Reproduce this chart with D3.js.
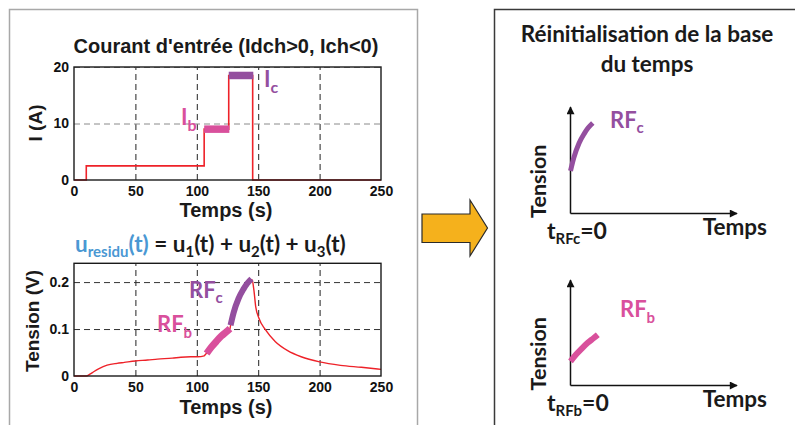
<!DOCTYPE html>
<html><head><meta charset="utf-8">
<script src="https://cdn.jsdelivr.net/npm/d3@7"></script>
<style>body{margin:0;background:#fff}svg{display:block}</style>
</head><body><svg id="c" width="795" height="425"></svg>
<script>
// ---------- data ----------
const xTicks = [0, 50, 100, 150, 200, 250];
const iTicks = [0, 10, 20];
const uTicks = [0, 0.1, 0.2];
const uTickLabels = ["0", "0.1", "0.2"];

// input current (step profile, value holds until next time)
const currentT = [0, 10, 106, 126, 145.5, 250];
const currentI = [0, 2.5, 9, 18.5, 0, 0];

// highlighted current pulses
const pulseNames = ["b", "c"];
const pulseStart = [106, 126];
const pulseEnd = [126.5, 146];
const pulseI = [9, 18.5];

// residual voltage
const uT = [0, 10, 13, 16, 20, 27, 35, 41, 50, 60, 68, 80, 87, 95, 100.7, 106, 107, 108.4, 112, 116, 120, 124, 127, 127.5, 130, 134, 138, 141, 145, 146.5, 148, 150.6, 156, 164, 174, 185, 200, 217, 234, 250];
const uV = [0, 0, 0.004, 0.009, 0.015, 0.023, 0.027, 0.029, 0.032, 0.034, 0.036, 0.038, 0.040, 0.041, 0.041, 0.043, 0.046, 0.049, 0.062, 0.074, 0.085, 0.094, 0.101, 0.108, 0.135, 0.165, 0.185, 0.197, 0.205, 0.183, 0.147, 0.123, 0.098, 0.073, 0.054, 0.041, 0.030, 0.0227, 0.0185, 0.0142];

// response fragments
const rfbT = [108, 112, 116, 120, 124, 127];
const rfbV = [0.048, 0.062, 0.074, 0.085, 0.094, 0.101];
const rfcT = [127.5, 130, 134, 138, 141, 144.5];
const rfcV = [0.108, 0.135, 0.165, 0.185, 0.197, 0.207];

// ---------- style ----------
const RED = "#ee2229", PINK = "#d9509c", PURPLE = "#944f9f", BLUE = "#4a98d3";
const ARIAL = "'Liberation Sans', Arial, sans-serif";
const CAL = "Lato, 'Open Sans', sans-serif";

const svg = d3.select("#c");

// panels
svg.append("rect").attr("x", 9.5).attr("y", 9.5).attr("width", 408).attr("height", 430)
  .attr("fill", "none").attr("stroke", "#a8a8a8").attr("stroke-width", 1.5);
svg.append("rect").attr("x", 494.5).attr("y", 9.5).attr("width", 320).attr("height", 430)
  .attr("fill", "none").attr("stroke", "#3a3a3a").attr("stroke-width", 1.5);

const x = d3.scaleLinear().domain([0, 250]).range([74, 381]);

function panel(y, ticks, labels, hGridColor) {
  const g = svg.append("g");
  const [y0, y1] = y.range();
  g.append("g").attr("transform", `translate(0,${y0})`)
    .call(d3.axisBottom(x).tickValues(xTicks.slice(1, -1)).tickSize(-(y0 - y1)).tickFormat(""))
    .call(s => s.select(".domain").remove())
    .call(s => s.selectAll("line").attr("stroke", "#222").attr("stroke-dasharray", "6,4").attr("stroke-width", 1));
  g.append("g").attr("transform", `translate(${x.range()[0]},0)`)
    .call(d3.axisLeft(y).tickValues(ticks.slice(1)).tickSize(-(x.range()[1] - x.range()[0])).tickFormat(""))
    .call(s => s.select(".domain").remove())
    .call(s => s.selectAll("line").attr("stroke", hGridColor).attr("stroke-dasharray", "6,4").attr("stroke-width", 1));
  g.append("g").attr("transform", `translate(0,${y0})`)
    .call(d3.axisBottom(x).tickValues(xTicks).tickSize(0).tickPadding(6).tickFormat(d3.format("d")))
    .call(s => s.select(".domain").remove())
    .call(s => s.selectAll("text").attr("font-family", ARIAL).attr("font-weight", "bold").attr("font-size", 14).attr("fill", "#111"));
  g.append("g").attr("transform", `translate(${x.range()[0]},0)`)
    .call(d3.axisLeft(y).tickValues(ticks).tickSize(0).tickPadding(5).tickFormat((d, i) => labels[i]))
    .call(s => s.select(".domain").remove())
    .call(s => s.selectAll("text").attr("font-family", ARIAL).attr("font-weight", "bold").attr("font-size", 14).attr("fill", "#111"));
  return g;
}
function frame(y) {
  svg.append("rect").attr("x", x.range()[0]).attr("y", y.range()[1])
    .attr("width", x.range()[1] - x.range()[0]).attr("height", y.range()[0] - y.range()[1])
    .attr("fill", "none").attr("stroke", "#1a1a1a").attr("stroke-width", 1.4);
}
function subLabel(px, py, main, sub, color, size, subSize, dy) {
  const t = svg.append("text").attr("x", px).attr("y", py)
    .attr("font-family", CAL).attr("font-weight", "bold").attr("font-size", size).attr("fill", color);
  t.append("tspan").text(main);
  t.append("tspan").attr("font-size", subSize).attr("dy", dy).text(sub);
  return t;
}

// ---------- top: current ----------
const yI = d3.scaleLinear().domain([0, 20]).range([180, 67]);
panel(yI, iTicks, iTicks.map(String), "#8a8a8a");
svg.append("path").datum(currentT.map((t, i) => [t, currentI[i]]))
  .attr("d", d3.line().x(d => x(d[0])).y(d => yI(d[1])).curve(d3.curveStepAfter))
  .attr("fill", "none").attr("stroke", RED).attr("stroke-width", 1.6);
frame(yI);
pulseNames.forEach((n, i) => {
  svg.append("line").attr("x1", x(pulseStart[i])).attr("x2", x(pulseEnd[i]))
    .attr("y1", yI(pulseI[i])).attr("y2", yI(pulseI[i]))
    .attr("stroke", i === 0 ? PINK : PURPLE).attr("stroke-width", 7.5);
});
svg.append("text").attr("x", 226).attr("y", 53).attr("text-anchor", "middle")
  .attr("font-family", ARIAL).attr("font-weight", "bold").attr("font-size", 20).attr("fill", "#1a1a1a")
  .text("Courant d'entrée (Idch>0, Ich<0)");
svg.append("text").attr("x", 226).attr("y", 217).attr("text-anchor", "middle")
  .attr("font-family", ARIAL).attr("font-weight", "bold").attr("font-size", 20).attr("fill", "#1a1a1a")
  .text("Temps (s)");
svg.append("text").attr("transform", "translate(42,123) rotate(-90)").attr("text-anchor", "middle")
  .attr("font-family", ARIAL).attr("font-weight", "bold").attr("font-size", 19).attr("fill", "#1a1a1a")
  .text("I (A)");
subLabel(181, 125, "I", pulseNames[0], PINK, 22, 16, 6);
subLabel(264, 87, "I", pulseNames[1], PURPLE, 22, 16, 6);

// ---------- bottom: residual voltage ----------
const yU = d3.scaleLinear().domain([0, 0.24]).range([376, 263.3]);
panel(yU, uTicks, uTickLabels, "#333");
svg.append("path").datum(uT.map((t, i) => [t, uV[i]]))
  .attr("d", d3.line().x(d => x(d[0])).y(d => yU(d[1])).curve(d3.curveMonotoneX))
  .attr("fill", "none").attr("stroke", RED).attr("stroke-width", 1.4);
frame(yU);
svg.append("path").datum(rfbT.map((t, i) => [t, rfbV[i]]))
  .attr("d", d3.line().x(d => x(d[0])).y(d => yU(d[1])).curve(d3.curveMonotoneX))
  .attr("fill", "none").attr("stroke", PINK).attr("stroke-width", 7);
svg.append("path").datum(rfcT.map((t, i) => [t, rfcV[i]]))
  .attr("d", d3.line().x(d => x(d[0])).y(d => yU(d[1])).curve(d3.curveMonotoneX))
  .attr("fill", "none").attr("stroke", PURPLE).attr("stroke-width", 6);
subLabel(157, 332, "RF", "b", PINK, 22, 15, 6);
subLabel(189, 298, "RF", "c", PURPLE, 22, 15, 5);

svg.append("text").attr("x", 226).attr("y", 414).attr("text-anchor", "middle")
  .attr("font-family", ARIAL).attr("font-weight", "bold").attr("font-size", 20).attr("fill", "#1a1a1a")
  .text("Temps (s)");
svg.append("text").attr("transform", "translate(39,321) rotate(-90)").attr("text-anchor", "middle")
  .attr("font-family", ARIAL).attr("font-weight", "bold").attr("font-size", 19).attr("fill", "#1a1a1a")
  .text("Tension (V)");
{
  const t = svg.append("text").attr("x", 75).attr("y", 252)
    .attr("font-family", CAL).attr("font-weight", "bold").attr("font-size", 22.5).attr("fill", "#1a1a1a");
  t.append("tspan").attr("fill", BLUE).text("u");
  t.append("tspan").attr("fill", BLUE).attr("font-size", 15).attr("dy", 5).text("residu");
  t.append("tspan").attr("fill", BLUE).attr("dy", -5).text("(t)");
  t.append("tspan").text(" = u");
  t.append("tspan").attr("font-size", 15).attr("dy", 5).text("1");
  t.append("tspan").attr("dy", -5).text("(t) + u");
  t.append("tspan").attr("font-size", 15).attr("dy", 5).text("2");
  t.append("tspan").attr("dy", -5).text("(t) + u");
  t.append("tspan").attr("font-size", 15).attr("dy", 5).text("3");
  t.append("tspan").attr("dy", -5).text("(t)");
}

// ---------- arrow ----------
svg.append("path")
  .attr("d", "M422,214 L470,214 L470,200 L487.5,228 L470,256 L470,242.5 L422,242.5 Z")
  .attr("fill", "#f5b11c").attr("stroke", "#2a2a2a").attr("stroke-width", 1.2).attr("stroke-linejoin", "miter");

// ---------- right panel ----------
const defs = svg.append("defs");
defs.append("marker").attr("id", "ah").attr("viewBox", "0 0 10 10").attr("refX", 9).attr("refY", 5)
  .attr("markerWidth", 10).attr("markerHeight", 8).attr("markerUnits", "userSpaceOnUse").attr("orient", "auto")
  .append("path").attr("d", "M0,0 L10,5 L0,10 Z").attr("fill", "#111");

svg.append("text").attr("x", 647).attr("y", 42).attr("text-anchor", "middle")
  .attr("font-family", CAL).attr("font-weight", "bold").attr("font-size", 22.5).attr("fill", "#1a1a1a")
  .text("Réinitialisation de la base");
svg.append("text").attr("x", 647).attr("y", 72).attr("text-anchor", "middle")
  .attr("font-family", CAL).attr("font-weight", "bold").attr("font-size", 22.5).attr("fill", "#1a1a1a")
  .text("du temps");

function mini(yTop, yBot, tData, vData, vDomain, tScale, color, name, width) {
  const t0 = tData[0];
  const mx = d3.scaleLinear().domain([0, tScale]).range([570.5, 737]);
  const my = d3.scaleLinear().domain(vDomain).range([yBot, yTop]);
  svg.append("line").attr("x1", 570.5).attr("x2", 570.5).attr("y1", yBot).attr("y2", yTop)
    .attr("stroke", "#111").attr("stroke-width", 1.5).attr("marker-end", "url(#ah)");
  svg.append("line").attr("x1", 570.5).attr("x2", 737).attr("y1", yBot).attr("y2", yBot)
    .attr("stroke", "#111").attr("stroke-width", 1.5).attr("marker-end", "url(#ah)");
  svg.append("path").datum(tData.map((t, i) => [t - t0, vData[i]]))
    .attr("d", d3.line().x(d => mx(d[0])).y(d => my(d[1])).curve(d3.curveMonotoneX))
    .attr("fill", "none").attr("stroke", color).attr("stroke-width", width);
  svg.append("text").attr("transform", `translate(546,${(yTop + yBot) / 2 + 21}) rotate(-90)`).attr("text-anchor", "middle")
    .attr("font-family", CAL).attr("font-weight", "bold").attr("font-size", 21.5).attr("fill", "#1a1a1a")
    .text("Tension");
  svg.append("text").attr("x", 767).attr("y", yBot + 21).attr("text-anchor", "end")
    .attr("font-family", CAL).attr("font-weight", "bold").attr("font-size", 22.5).attr("fill", "#1a1a1a")
    .text("Temps");
  const t = svg.append("text").attr("x", 547).attr("y", yBot + 25)
    .attr("font-family", CAL).attr("font-weight", "bold").attr("font-size", 23).attr("fill", "#1a1a1a");
  t.append("tspan").text("t");
  t.append("tspan").attr("font-size", 15).attr("dy", 5).text("RF" + name);
  t.append("tspan").attr("dy", -5).text("=0");
}
mini(107, 213.5, rfcT, rfcV, [0.02, 0.24], 127, PURPLE, "c", 5);
subLabel(610, 128, "RF", "c", PURPLE, 22, 15, 5);
mini(280, 385.5, rfbT, rfbV, [0, 0.21], 116, PINK, "b", 6);
subLabel(620, 317, "RF", "b", PINK, 22, 15, 6);
</script></body></html>
